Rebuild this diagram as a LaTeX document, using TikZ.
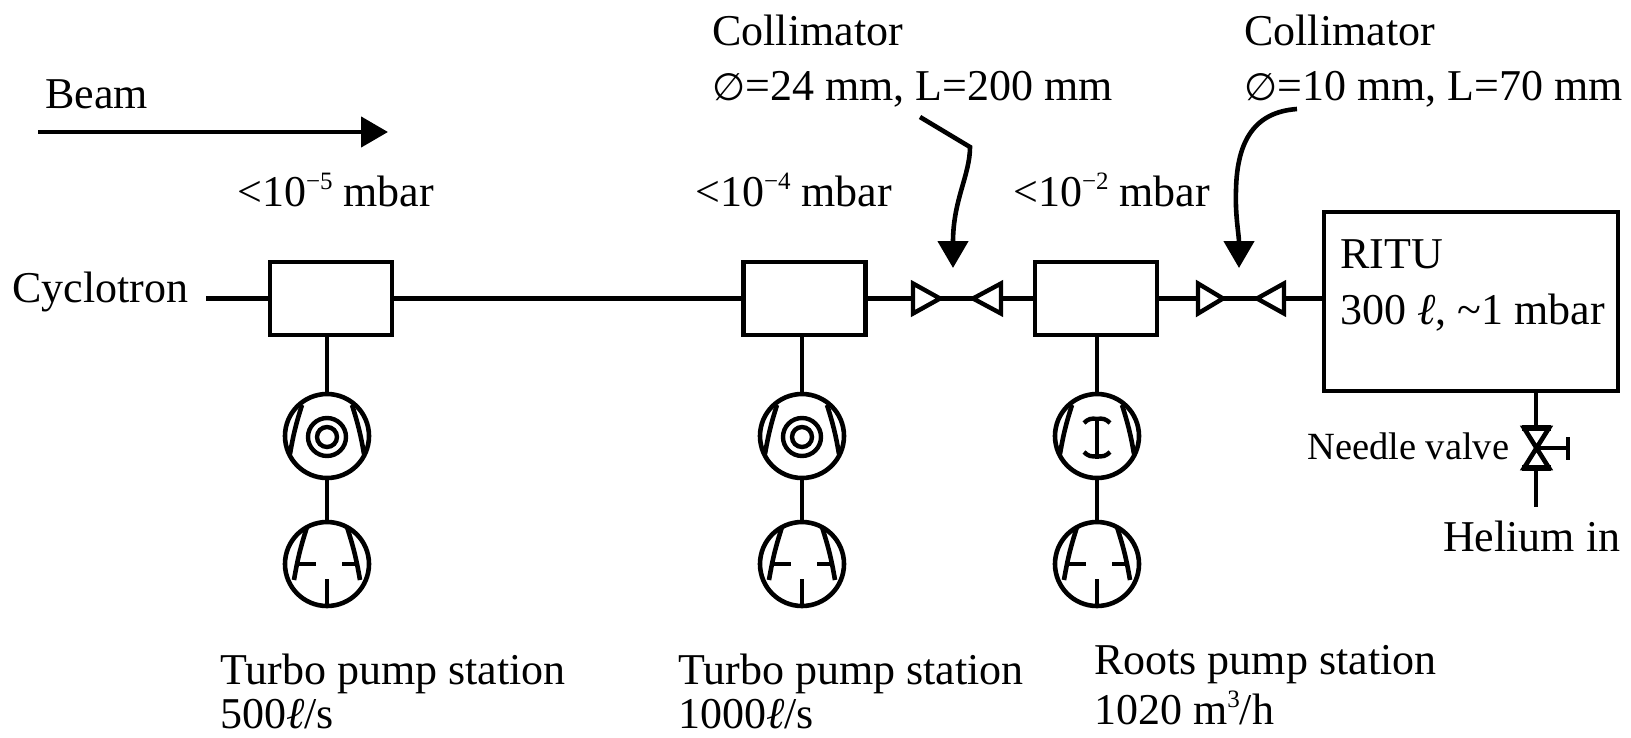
\documentclass[tikz,border=0pt]{standalone}
\usepackage{fontspec}
\setmainfont{Liberation Serif}
\newfontfamily\symfont{DejaVu Sans}
\usetikzlibrary{arrows.meta}
\newcommand{\dia}{{\symfont\fontsize{38}{44}\selectfont ∅}}
\newcommand{\lit}{{\itshape ℓ}}
\newcommand{\supr}[1]{\raisebox{17pt}{\fontsize{25}{30}\selectfont #1}}
\tikzset{
  line/.style={line width=4.6pt},
  vbox/.style={draw,line width=4.6pt,minimum width=122pt,minimum height=73pt,inner sep=0pt},
  pump/.style={draw,circle,line width=4.6pt,minimum size=84pt,inner sep=0pt},
  lbl/.style={anchor=base west,inner sep=0pt,align=left},
  tri/.style={draw,line width=4.4pt,fill=white,line join=miter},
  bigarrow/.style={line width=4.6pt,-{Triangle[length=27pt,width=30pt]}},
  pics/rotor/.style={code={
    \draw[line width=4.6pt] (-25,-31) to[bend right=4] (-37,18);
    \draw[line width=4.6pt] (25,-31) to[bend left=4] (37,18);
  }},
  pics/fore/.style={code={
    \draw[line width=4.6pt] (-20,-37) to[bend right=4] (-33,16);
    \draw[line width=4.6pt] (20,-37) to[bend left=4] (33,16);
    \draw[line width=4.2pt] (-29,0) -- (-11,0) (15,0) -- (31,0) (0,15) -- (0,42);
  }},
  pics/turbo/.style={code={
    \draw[line width=4.4pt] (0,1) circle (19);
    \draw[line width=4.4pt] (0,1) circle (10);
  }},
  pics/roots/.style={code={
    \draw[line width=4.4pt] (0,-19) -- (0,23);
    \draw[line width=4.4pt] (-13,-13) to[bend left=30] (0,-17) to[bend left=30] (13,-13);
    \draw[line width=4.4pt] (-13,16) to[bend right=30] (0,20) to[bend right=30] (13,16);
  }}
}
\begin{document}
\begin{tikzpicture}[x=1pt,y=-1pt,font=\fontsize{44}{50}\selectfont]
\useasboundingbox (0,0) rectangle (1631,737);
% boxes
\node[vbox] (b1) at (331,298.5) {};
\node[vbox] (b2) at (804.5,298.5) {};
\node[vbox] (b3) at (1096,298.5) {};
\node[draw,line width=4.6pt,minimum width=294pt,minimum height=179pt,inner sep=0pt] (ritu) at (1471,301.5) {};
% pumps
\node[pump] (p1a) at (327,436) {};
\node[pump] (p1b) at (327,564) {};
\node[pump] (p2a) at (802,436) {};
\node[pump] (p2b) at (802,564) {};
\node[pump] (p3a) at (1097,436) {};
\node[pump] (p3b) at (1097,564) {};
\foreach \n in {p1a,p2a,p3a} {\pic at (\n) {rotor};}
\foreach \n in {p1b,p2b,p3b} {\pic at (\n) {fore};}
\pic at (p1a) {turbo};
\pic at (p2a) {turbo};
\pic at (p3a) {roots};
\draw[line] (p1a) -- (p1b);
\draw[line] (p2a) -- (p2b);
\draw[line] (p3a) -- (p3b);
% collimator points
\coordinate (c1a) at (913,298.5); \coordinate (c1t) at (940,298.5);
\coordinate (c2t) at (973,298.5); \coordinate (c2a) at (1001,298.5);
\coordinate (c3a) at (1198,298.5); \coordinate (c3t) at (1223,298.5);
\coordinate (c4t) at (1257,298.5); \coordinate (c4a) at (1284,298.5);
\coordinate (cy) at (206,298.5);
% connectors
\draw[line] (cy) -- (b1.west);
\draw[line] (b1.east) -- (b2.west);
\draw[line] (b2.east) -- (c1a);
\draw[line] (c1t) -- (c2t);
\draw[line] (c2a) -- (b3.west);
\draw[line] (b3.east) -- (c3a);
\draw[line] (c3t) -- (c4t);
\draw[line] (c4a) -- (c4a -| ritu.west);
\draw[line] (b1.south -| p1a) -- (p1a.north);
\draw[line] (b2.south -| p2a) -- (p2a.north);
\draw[line] (b3.south -| p3a) -- (p3a.north);
% collimators
\draw[tri] (c1a) ++(0,-15) -- (c1t) -- (913,313.5) -- cycle;
\draw[tri] (c2a) ++(0,-15) -- (c2t) -- (1001,313.5) -- cycle;
\draw[tri] (c3a) ++(0,-15) -- (c3t) -- (1198,313.5) -- cycle;
\draw[tri] (c4a) ++(0,-15) -- (c4t) -- (1284,313.5) -- cycle;
% beam arrow
\coordinate (bs) at (38,132); \coordinate (be) at (388,132);
\draw[bigarrow] (bs) -- (be);
% collimator arrows
\coordinate (a1s) at (920,117); \coordinate (a1k) at (970,147); \coordinate (a1t) at (953,268);
\coordinate (a2s) at (1297,109); \coordinate (a2t) at (1239,268);
\draw[bigarrow] (a1s) -- (a1k) .. controls (970,175) and (953,200) .. (a1t);
\draw[bigarrow] (a2s) .. controls (1255,112) and (1237,140) .. (1236,190) .. controls (1235,215) and (1239,235) .. (a2t);
% needle valve
\coordinate (nv) at (1536,448);
\coordinate (nvh) at (1568,448);
\coordinate (nvend) at (1536,507);
\draw[line,line join=miter] (1524,428) -- (1549,428) -- (1524,468) -- (1549,468) -- cycle;
\draw[line width=6pt] (1522,428) -- (1551,428) (1522,468) -- (1551,468);
\draw[line] (ritu.south -| nv) -- (1536,427);
\draw[line] (1536,469) -- (nvend);
\draw[line] (nv) -- (nvh);
\draw[line] (1568,437) -- (1568,460);
% labels
\node[lbl] (tbeam) at (45,108) {Beam};
\node[lbl] (tcyc) at (12,302) {Cyclotron};
\node[lbl] (tv1) at (237,206) {<10\supr{−5} mbar};
\node[lbl] (tv2) at (695,206) {<10\supr{−4} mbar};
\node[lbl] (tv3) at (1013,206) {<10\supr{−2} mbar};
\node[lbl] (tc1a) at (712,45) {Collimator};
\node[lbl] (tc1b) at (712,100) {\dia=24 mm, L=200 mm};
\node[lbl] (tc2a) at (1244,45) {Collimator};
\node[lbl] (tc2b) at (1244,100) {\dia=10 mm, L=70 mm};
\node[lbl] (tr1) at (1340,268) {RITU};
\node[lbl] (tr2) at (1340,324) {300 \lit, \textasciitilde1 mbar};
\node[lbl,font=\fontsize{38.5}{44}\selectfont] (tnv) at (1307,459) {Needle valve};
\node[lbl] (the) at (1443,551) {Helium in};
\node[lbl] (tt1a) at (220,684) {Turbo pump station};
\node[lbl] (tt1b) at (220,728) {500\lit/s};
\node[lbl] (tt2a) at (678,684) {Turbo pump station};
\node[lbl] (tt2b) at (678,728) {1000\lit/s};
\node[lbl] (tt3a) at (1094,674) {Roots pump station};
\node[lbl] (tt3b) at (1094,724) {1020 m\supr{3}/h};
\end{tikzpicture}
\end{document}
